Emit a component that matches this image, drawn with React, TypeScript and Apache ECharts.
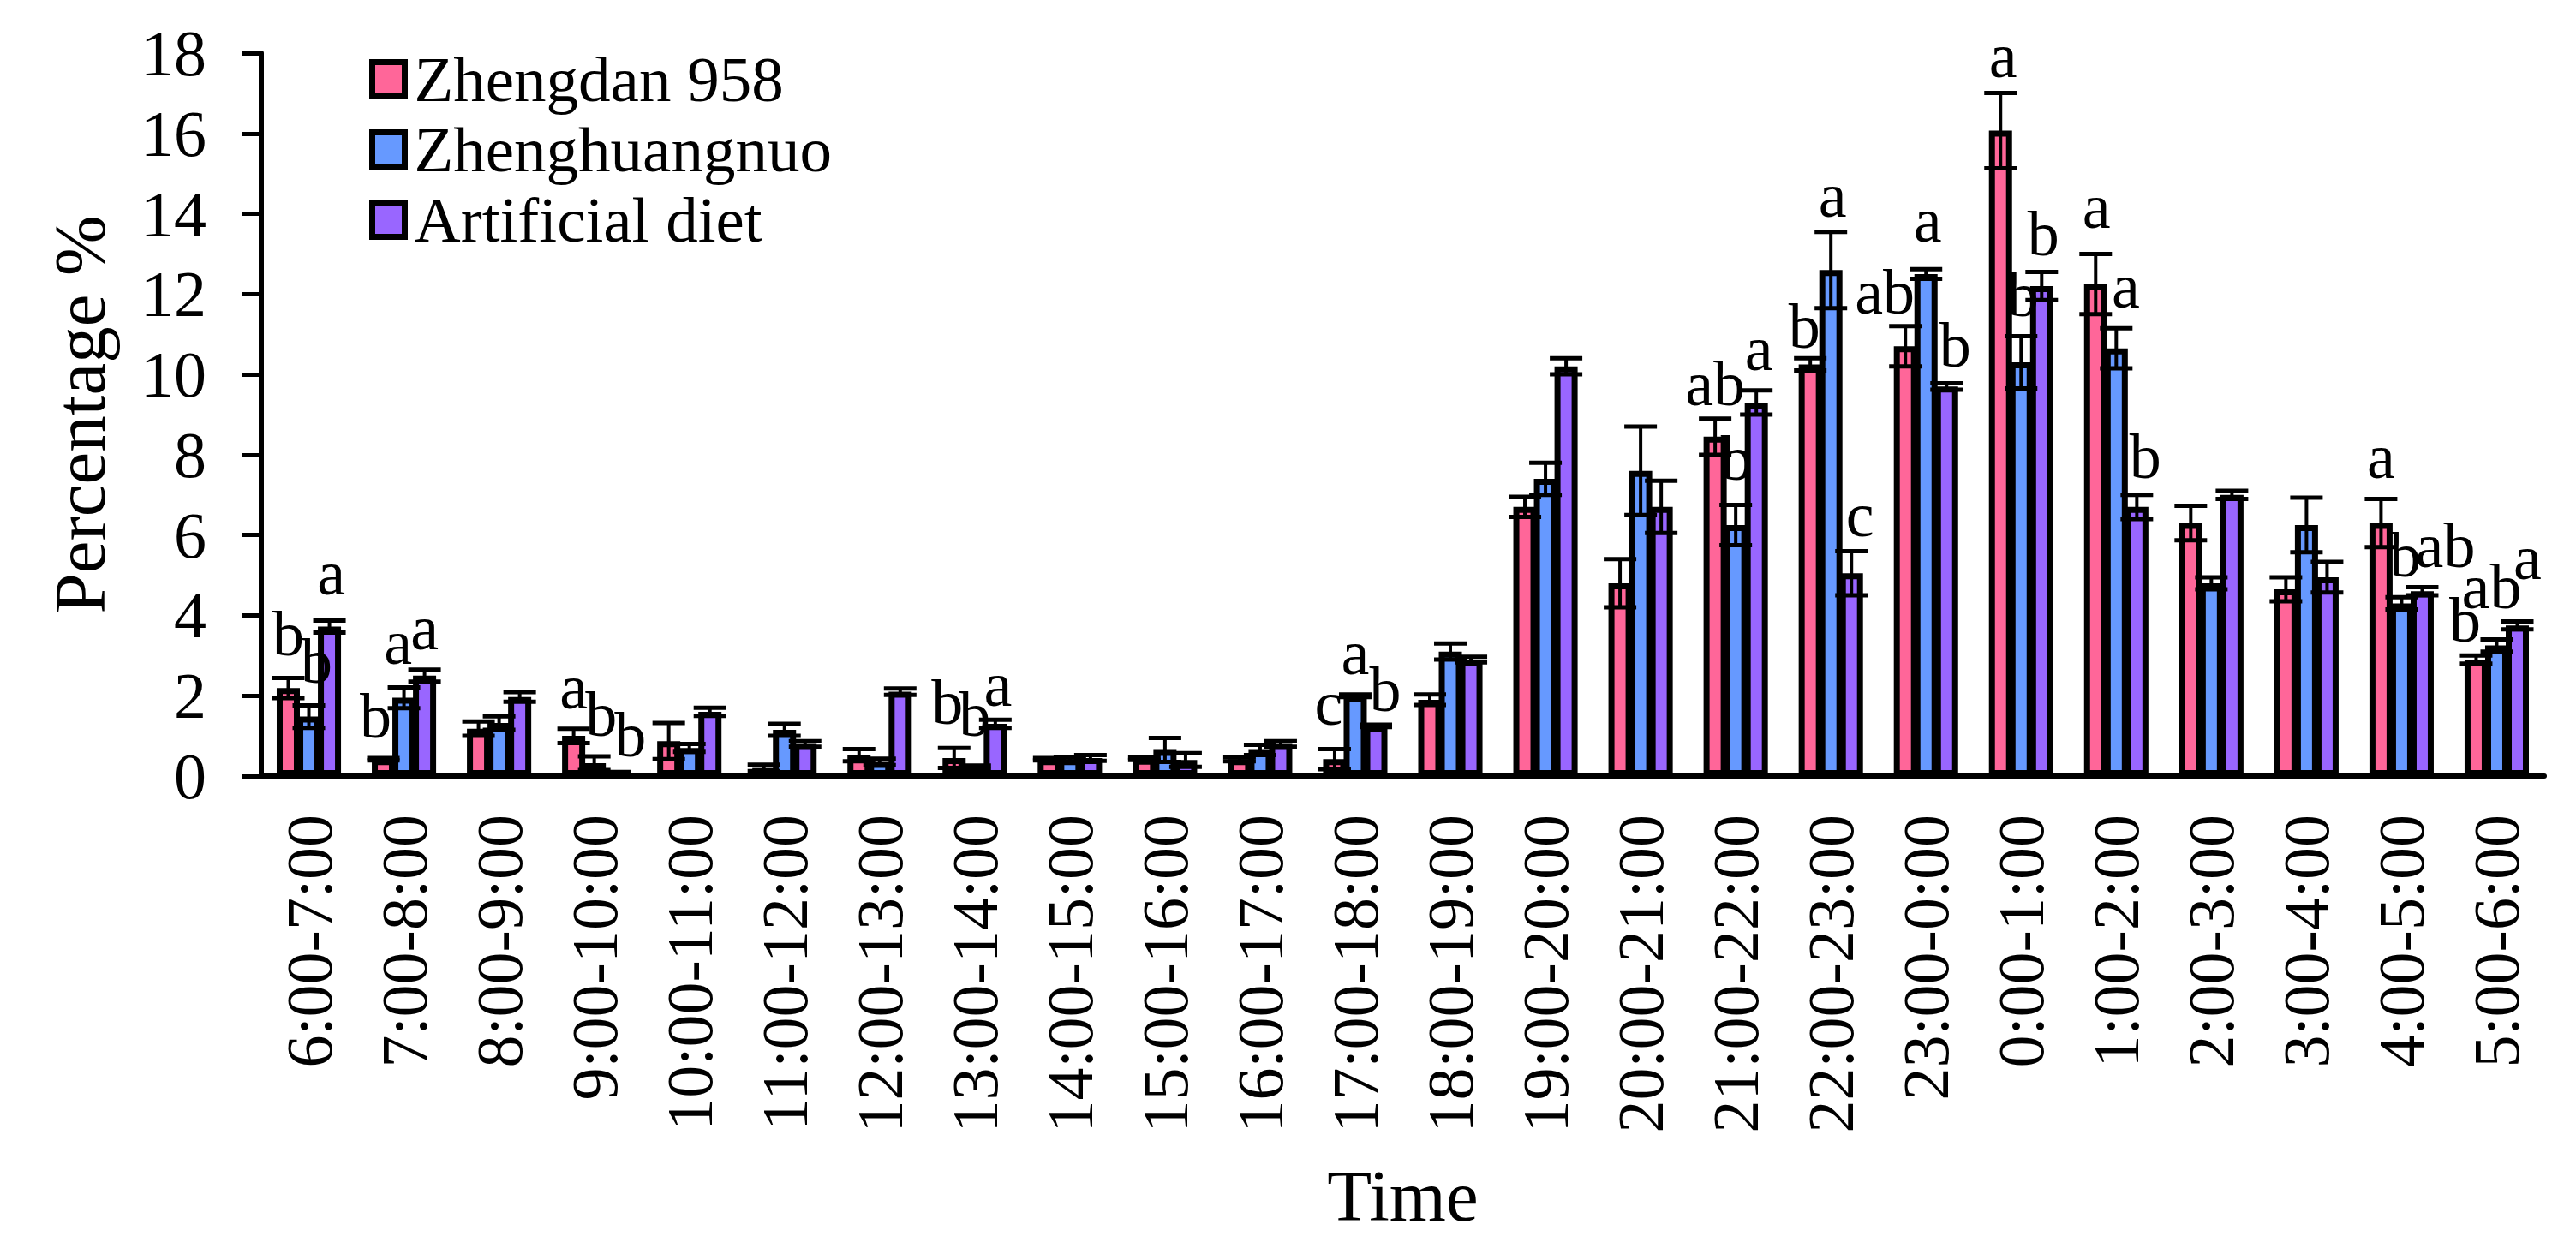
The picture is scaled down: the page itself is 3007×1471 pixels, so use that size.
import { useEffect, useRef } from 'react';
import * as echarts from 'echarts';

const timeSlots = [
    '6:00-7:00', '7:00-8:00', '8:00-9:00', '9:00-10:00', '10:00-11:00', '11:00-12:00',
    '12:00-13:00', '13:00-14:00', '14:00-15:00', '15:00-16:00', '16:00-17:00', '17:00-18:00',
    '18:00-19:00', '19:00-20:00', '20:00-21:00', '21:00-22:00', '22:00-23:00', '23:00-0:00',
    '0:00-1:00', '1:00-2:00', '2:00-3:00', '3:00-4:00', '4:00-5:00', '5:00-6:00'
];

const seriesNames = ['Zhengdan 958', 'Zhenghuangnuo', 'Artificial diet'];

const zhengdan958 = [2.19, 0.42, 1.18, 1.0, 0.87, 0.2, 0.52, 0.45, 0.42, 0.43, 0.42, 0.42,
    1.9, 6.7, 4.8, 8.45, 10.25, 10.7, 16.07, 12.25, 6.3, 4.65, 6.3, 2.9];
const zhengdan958Se = [0.25, 0.03, 0.18, 0.18, 0.45, 0.08, 0.15, 0.25, 0.03, 0.03, 0.05, 0.25,
    0.13, 0.25, 0.6, 0.45, 0.15, 0.5, 0.94, 0.75, 0.43, 0.3, 0.6, 0.1];
const zhengdan958Sig = ['b', 'b', '', 'a', '', '', '', 'b', '', '', '', 'c',
    '', '', '', 'ab', 'b', 'ab', 'a', 'a', '', '', 'a', 'b'];

const zhenghuangnuo = [1.48, 1.95, 1.32, 0.32, 0.7, 1.15, 0.35, 0.22, 0.42, 0.65, 0.65, 2.0,
    3.1, 7.4, 7.6, 6.25, 12.6, 12.5, 10.3, 10.65, 4.8, 6.25, 4.3, 3.25];
const zhenghuangnuoSe = [0.28, 0.26, 0.17, 0.17, 0.1, 0.15, 0.08, 0.04, 0.05, 0.3, 0.13, 0.03,
    0.2, 0.4, 1.1, 0.5, 0.95, 0.12, 0.65, 0.5, 0.15, 0.68, 0.15, 0.15];
const zhenghuangnuoSig = ['b', 'a', '', 'b', '', '', '', 'b', '', '', '', 'a',
    '', '', '', 'b', 'a', 'a', 'b', 'a', '', '', 'b', 'ab'];

const artificialDiet = [3.72, 2.5, 1.97, 0.08, 1.6, 0.8, 2.1, 1.3, 0.45, 0.4, 0.8, 1.25,
    2.9, 10.2, 6.7, 9.3, 5.05, 9.7, 12.2, 6.7, 7.0, 4.95, 4.6, 3.75];
const artificialDietSe = [0.15, 0.15, 0.12, 0.02, 0.1, 0.07, 0.08, 0.1, 0.07, 0.17, 0.07, 0.03,
    0.07, 0.2, 0.65, 0.3, 0.55, 0.08, 0.35, 0.3, 0.1, 0.38, 0.1, 0.1];
const artificialDietSig = ['a', 'a', '', 'b', '', '', '', 'a', '', '', '', 'b',
    '', '', '', 'a', 'c', 'b', 'b', 'b', '', '', 'ab', 'a'];

const means = [zhengdan958, zhenghuangnuo, artificialDiet];
const errors = [zhengdan958Se, zhenghuangnuoSe, artificialDietSe];
const letters = [zhengdan958Sig, zhenghuangnuoSig, artificialDietSig];
const colors = ['#FF6699', '#6699FF', '#9966FF'];

// hand placed letters in the original figure: "category-series" -> [dx, dy]
const labelNudge: Record<string, [number, number]> = {
    '0-0': [0, -3], '0-1': [9, -2], '0-2': [2, -7],
    '1-0': [-9, 0], '1-1': [-7, -3],
    '3-1': [8, 0], '3-2': [18, 6],
    '7-0': [-8, -4], '7-1': [0, -11], '7-2': [3, 8],
    '11-0': [-7, -5], '11-2': [11, 8],
    '15-0': [0, 8], '15-1': [1, -6], '15-2': [3, 0],
    '16-0': [-7, 12], '16-1': [2, 6], '16-2': [10, 7],
    '17-0': [-24, 9], '17-1': [2, -8], '17-2': [10, 5],
    '18-0': [3, 6], '18-1': [2, 0], '18-2': [2, 4],
    '19-0': [1, -6], '19-1': [11, 0], '19-2': [10, 4],
    '22-1': [4, 0], '22-2': [27, 0],
    '23-0': [-13, 8], '23-1': [-6, -13], '23-2': [12, -25]
};

const FONT = "'Liberation Serif', 'Times New Roman', serif";
const BAR_WIDTH = 27;
const BAR_GAP = -0.11;
const BAR_PITCH = BAR_WIDTH * (1 + BAR_GAP);
const CAP_WIDTH = 38;

export default function App() {
    const ref = useRef<HTMLDivElement | null>(null);

    useEffect(() => {
        if (!ref.current) return;
        const chart = echarts.init(ref.current, null, { renderer: 'svg' });

        const bars = seriesNames.map((name, s) => ({
            name,
            type: 'bar',
            data: means[s],
            barWidth: BAR_WIDTH,
            barGap: `${BAR_GAP * 100}%`,
            z: 2,
            itemStyle: { color: colors[s], borderColor: '#000', borderWidth: 7 }
        }));

        const errorBars = seriesNames.map((_, s) => ({
            type: 'custom',
            z: 3,
            clip: false,
            data: timeSlots.map((_, i) => [i, means[s][i], errors[s][i]]),
            encode: { x: 0, y: 1 },
            renderItem: (params: any, api: any) => {
                const cat = api.value(0);
                const mean = api.value(1);
                const se = api.value(2);
                const x = api.coord([cat, 0])[0] + (s - 1) * BAR_PITCH;
                const yHi = api.coord([cat, mean + se])[1];
                const yLo = api.coord([cat, mean - se])[1];
                const children: any[] = [
                    { type: 'line', shape: { x1: x, y1: yLo, x2: x, y2: yHi }, style: { stroke: '#000', lineWidth: 4 } },
                    { type: 'line', shape: { x1: x - CAP_WIDTH / 2, y1: yHi, x2: x + CAP_WIDTH / 2, y2: yHi }, style: { stroke: '#000', lineWidth: 5 } },
                    { type: 'line', shape: { x1: x - CAP_WIDTH / 2, y1: yLo, x2: x + CAP_WIDTH / 2, y2: yLo }, style: { stroke: '#000', lineWidth: 5 } }
                ];
                const sig = letters[s][params.dataIndex];
                if (sig) {
                    const [dx, dy] = labelNudge[`${params.dataIndex}-${s}`] || [0, 0];
                    children.push({
                        type: 'text',
                        x: x + dx,
                        y: yHi - 12 + dy,
                        style: {
                            text: sig, fill: '#000', fontSize: 74, fontFamily: FONT,
                            align: 'center', verticalAlign: 'bottom'
                        }
                    });
                }
                return { type: 'group', children };
            }
        }));

        chart.setOption({
            animation: false,
            backgroundColor: '#fff',
            textStyle: { fontFamily: FONT, color: '#000' },
            grid: { left: 305, right: 37, top: 62, bottom: 565, containLabel: false },
            legend: {
                data: seriesNames,
                orient: 'vertical',
                left: 431,
                top: 55,
                padding: 0,
                itemGap: 7,
                itemWidth: 38,
                itemHeight: 40,
                icon: 'rect',
                itemStyle: { borderColor: '#000', borderWidth: 7 },
                textStyle: { fontSize: 75, lineHeight: 75, fontFamily: FONT, color: '#000', padding: [0, 0, 0, 6] }
            },
            xAxis: {
                type: 'category',
                data: timeSlots,
                name: 'Time',
                nameLocation: 'middle',
                nameGap: 447,
                nameTextStyle: { fontSize: 85, fontFamily: FONT, color: '#000' },
                axisLine: { lineStyle: { color: '#000', width: 6 } },
                axisTick: { length: 23, lineStyle: { color: '#000', width: 5 } },
                axisLabel: { rotate: 90, interval: 0, margin: 45, fontSize: 76, fontFamily: FONT, color: '#000' }
            },
            yAxis: {
                type: 'value',
                min: 0,
                max: 18,
                interval: 2,
                name: 'Percentage %',
                nameLocation: 'middle',
                nameGap: 170,
                nameTextStyle: { fontSize: 85, fontFamily: FONT, color: '#000' },
                axisLine: { show: true, lineStyle: { color: '#000', width: 6 } },
                axisTick: { show: true, length: 23, lineStyle: { color: '#000', width: 5 } },
                axisLabel: { margin: 64, fontSize: 76, fontFamily: FONT, color: '#000' },
                splitLine: { show: false }
            },
            series: [...bars, ...errorBars]
        });

        return () => chart.dispose();
    }, []);

    return <div ref={ref} style={{ position: 'fixed', left: 0, top: 0, width: 3007, height: 1471, background: '#fff' }}/>;
}
